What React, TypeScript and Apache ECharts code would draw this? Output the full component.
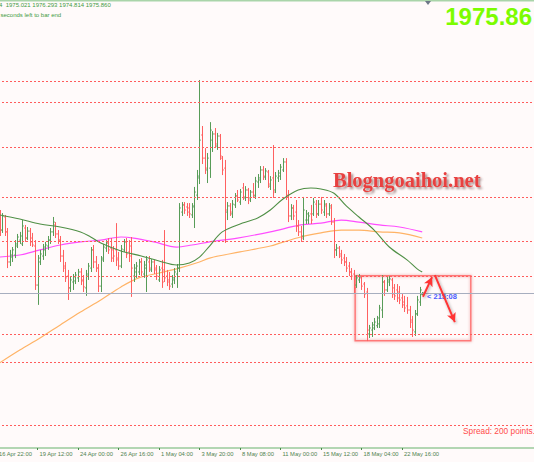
import { useEffect, useRef } from "react";
import * as echarts from "echarts";

// ---- time axis ----
const tickLabels = [
  "16 Apr 22:00", "19 Apr 12:00", "24 Apr 00:00", "26 Apr 16:00", "1 May 04:00",
  "3 May 20:00", "8 May 08:00", "11 May 00:00", "15 May 12:00", "18 May 04:00", "22 May 16:00",
];
const tickBars = [0, 16, 32, 48, 64, 80, 96, 112, 128, 144, 160];

// ---- XAUUSD H4 bars (bar index = array index) ----
const opens = [
  2009.1, 2012.5, 2006.6, 2013.0, 2005.7, 1991.0, 1993.4, 1994.4, 1998.8, 2001.7,
  1999.8, 2007.6, 2002.7, 2006.1, 2002.7, 1998.8, 1979.7, 1991.0, 1993.9, 1996.9,
  1998.8, 2001.7, 2005.7, 2009.1, 2004.7, 2001.7, 1993.9, 1989.0, 1984.1, 1978.3,
  1981.2, 1981.7, 1983.2, 1986.1, 1982.2, 1978.3, 1984.1, 1988.0, 1996.9, 1991.0,
  1988.0, 1979.2, 1992.9, 1997.8, 2000.3, 1997.8, 1996.9, 1996.9, 1992.9, 1989.0,
  1996.9, 2000.8, 1995.9, 1998.8, 1984.1, 1986.1, 1986.1, 1991.0, 1985.1, 1988.0,
  1991.0, 1987.1, 1991.0, 1988.0, 1982.2, 1988.0, 1987.1, 1984.1, 1982.2, 1980.2,
  1982.2, 1985.1, 1988.0, 2015.4, 2018.9, 2017.9, 2017.4, 2014.0, 2017.9, 2023.7,
  2032.1, 2053.1, 2041.8, 2036.0, 2036.9, 2050.6, 2053.6, 2047.7, 2052.6, 2041.8,
  2036.9, 2015.4, 2018.4, 2014.5, 2018.9, 2023.3, 2020.3, 2027.2, 2022.3, 2026.2,
  2022.3, 2025.2, 2023.3, 2030.1, 2031.1, 2036.0, 2032.5, 2035.0, 2028.1, 2032.1,
  2026.2, 2032.1, 2033.0, 2036.0, 2039.9, 2023.3, 2013.5, 2017.4, 2015.4, 2008.6,
  2005.7, 2003.7, 2011.5, 2011.5, 2014.5, 2014.5, 2019.3, 2014.5, 2019.3, 2015.4,
  2018.4, 2014.5, 2017.4, 2010.5, 1996.9, 1997.8, 1994.9, 1992.9, 1991.0, 1989.0,
  1986.1, 1985.1, 1979.7, 1982.2, 1983.2, 1980.2, 1976.3, 1955.8, 1957.7, 1958.7,
  1959.8, 1960.7, 1967.5, 1981.2, 1977.3, 1981.2, 1982.2, 1978.3, 1977.3, 1976.3,
  1973.4, 1971.4, 1969.5, 1967.5, 1962.6, 1956.8, 1965.6, 1971.4, 1975.021,
];
const highs = [
  2015.4, 2016.4, 2014.9, 2014.0, 2007.6, 1996.9, 1998.3, 2001.7, 2004.7, 2005.7,
  2011.5, 2009.1, 2008.1, 2007.6, 2005.2, 2001.7, 1994.4, 1996.9, 1999.8, 2000.8,
  2003.7, 2007.6, 2013.0, 2010.5, 2006.6, 2003.7, 1996.9, 1991.0, 1987.1, 1984.1,
  1985.1, 1986.1, 1987.6, 1988.0, 1984.6, 1987.1, 1990.5, 1998.3, 1999.3, 1993.9,
  1990.0, 1993.9, 1999.8, 2001.7, 2002.7, 2002.7, 1998.8, 2010.0, 1995.9, 1999.3,
  2002.2, 2002.7, 2001.7, 2003.2, 1990.0, 1991.0, 1992.4, 1992.9, 1991.5, 1993.9,
  1993.9, 1992.4, 1992.0, 1989.5, 1989.0, 1992.0, 2006.6, 1987.1, 1986.1, 1984.6,
  1988.0, 1990.0, 2019.8, 2020.3, 2020.3, 2019.8, 2019.8, 2019.8, 2027.7, 2036.0,
  2080.0, 2057.5, 2046.7, 2044.3, 2059.4, 2055.0, 2056.5, 2054.1, 2053.6, 2042.8,
  2040.9, 2020.3, 2019.8, 2021.3, 2024.7, 2026.2, 2026.7, 2029.6, 2028.1, 2027.2,
  2026.2, 2029.6, 2032.6, 2034.0, 2037.9, 2037.9, 2036.9, 2036.0, 2033.0, 2048.2,
  2035.0, 2036.0, 2038.9, 2041.8, 2041.8, 2026.2, 2019.3, 2018.9, 2021.3, 2011.5,
  2008.6, 2022.8, 2016.4, 2015.4, 2018.9, 2022.3, 2021.3, 2021.3, 2022.8, 2021.3,
  2019.8, 2019.8, 2019.3, 2012.5, 1999.8, 1998.8, 1996.9, 1994.9, 1993.4, 1991.0,
  1988.0, 1987.1, 1984.6, 1985.1, 1984.1, 1981.2, 1978.3, 1960.2, 1961.6, 1963.6,
  1964.6, 1970.0, 1984.6, 1982.2, 1984.1, 1984.1, 1983.2, 1980.2, 1980.2, 1979.2,
  1975.3, 1974.4, 1973.9, 1969.5, 1964.6, 1967.5, 1974.4, 1978.8, 1976.293,
];
const lows = [
  2005.7, 2003.7, 2005.2, 2003.7, 1988.0, 1989.0, 1991.0, 1992.9, 1997.8, 1999.8,
  1998.8, 2000.8, 2001.7, 1998.8, 1998.3, 1977.3, 1970.0, 1989.5, 1992.0, 1993.9,
  1996.9, 1999.8, 2003.7, 2002.7, 1999.8, 1991.0, 1986.1, 1981.2, 1972.4, 1976.3,
  1977.3, 1980.2, 1981.2, 1979.7, 1976.3, 1974.4, 1982.2, 1986.1, 1988.0, 1986.1,
  1976.3, 1976.3, 1991.0, 1995.9, 1994.9, 1991.0, 1991.0, 1989.0, 1987.1, 1988.0,
  1995.9, 1992.9, 1991.0, 1973.9, 1981.2, 1983.2, 1984.6, 1984.1, 1983.2, 1976.3,
  1986.1, 1986.1, 1985.1, 1982.2, 1981.2, 1978.3, 1981.2, 1979.2, 1977.3, 1978.3,
  1980.2, 1978.3, 1986.1, 2013.5, 2014.5, 2013.5, 2012.5, 2012.5, 2007.6, 2021.3,
  2029.1, 2038.9, 2034.0, 2029.6, 2032.1, 2044.8, 2046.7, 2045.8, 2040.9, 2033.5,
  2000.3, 2011.5, 2013.5, 2012.5, 2017.4, 2020.3, 2018.9, 2021.3, 2020.8, 2019.3,
  2020.3, 2022.3, 2021.8, 2027.2, 2029.6, 2031.1, 2031.1, 2027.2, 2026.2, 2022.3,
  2024.7, 2030.1, 2031.1, 2035.0, 2021.3, 2010.5, 2011.5, 2011.5, 2005.7, 2003.7,
  2000.8, 2001.7, 2009.6, 2009.6, 2009.6, 2013.5, 2012.5, 2013.5, 2014.5, 2013.5,
  2012.5, 2013.5, 2009.1, 1992.9, 1993.9, 1992.9, 1990.0, 1989.0, 1986.1, 1984.1,
  1982.2, 1975.8, 1978.3, 1980.7, 1977.3, 1973.4, 1952.3, 1953.8, 1954.3, 1957.7,
  1958.7, 1958.7, 1963.6, 1974.4, 1976.3, 1979.2, 1973.4, 1972.4, 1971.4, 1970.4,
  1968.5, 1966.5, 1965.6, 1958.7, 1954.3, 1954.8, 1964.6, 1969.5, 1974.814,
];
const closes = [
  2012.5, 2006.6, 2013.5, 2005.7, 1991.0, 1994.4, 1996.9, 1999.8, 2003.2, 2003.7,
  2008.6, 2002.7, 2006.1, 2000.8, 1999.3, 1979.7, 1992.9, 1994.9, 1998.3, 1999.3,
  2001.7, 2005.7, 2010.5, 2004.7, 2001.7, 1993.9, 1988.0, 1983.2, 1978.3, 1982.2,
  1983.7, 1984.6, 1986.1, 1981.7, 1978.8, 1985.1, 1989.0, 1996.9, 1991.0, 1988.0,
  1979.2, 1992.0, 1998.3, 2000.3, 1996.9, 1992.9, 1993.9, 1992.0, 1989.0, 1997.3,
  2000.8, 1994.9, 1993.9, 1988.0, 1988.0, 1989.0, 1991.0, 1986.1, 1989.5, 1992.0,
  1988.0, 1991.0, 1987.1, 1984.1, 1987.1, 1981.2, 1983.2, 1981.2, 1979.2, 1983.2,
  1986.1, 1988.0, 2017.4, 2018.9, 2016.4, 2015.4, 2014.5, 2018.4, 2025.2, 2033.0,
  2050.6, 2041.8, 2036.9, 2041.8, 2055.5, 2053.6, 2048.7, 2052.6, 2042.8, 2036.0,
  2016.4, 2018.4, 2015.4, 2019.3, 2023.3, 2021.3, 2025.2, 2022.8, 2026.2, 2021.3,
  2025.2, 2023.7, 2030.6, 2032.1, 2036.0, 2033.0, 2035.5, 2029.1, 2031.1, 2025.2,
  2033.0, 2034.5, 2037.4, 2039.9, 2023.7, 2013.5, 2017.4, 2013.5, 2008.6, 2005.7,
  2002.7, 2016.4, 2014.5, 2013.5, 2011.5, 2020.3, 2014.5, 2019.3, 2016.4, 2019.3,
  2014.5, 2018.4, 2010.5, 1996.9, 1997.8, 1993.9, 1992.0, 1991.0, 1988.0, 1986.1,
  1984.1, 1978.3, 1983.2, 1983.7, 1979.2, 1975.3, 1957.7, 1958.7, 1960.2, 1961.6,
  1963.6, 1968.5, 1981.2, 1977.3, 1982.2, 1982.7, 1975.3, 1974.4, 1973.4, 1972.4,
  1970.0, 1968.5, 1967.5, 1961.6, 1957.7, 1965.6, 1972.4, 1977.3, 1975.86,
];

// ---- moving averages: [bar index, price] ----
const maGreen = [
  [1, 2014.0], [9, 2012.0], [17, 2009.6], [25, 2008.1], [33, 2005.7], [37, 2003.2], [41, 2000.3],
  [49, 1996.4], [57, 1993.9], [64, 1991.5], [71, 1989.5], [76, 1990.5], [80, 1993.4],
  [84, 1998.8], [89, 2005.7], [97, 2010.0], [103, 2012.5], [108, 2016.4], [113, 2021.8],
  [119, 2026.2], [124, 2027.2], [128, 2026.7], [133, 2024.7], [138, 2018.4], [143, 2013.0],
  [149, 2006.6], [155, 1998.3], [162, 1992.0], [166, 1987.6], [168, 1986.1],
];
const maMagenta = [
  [1, 1993.4], [9, 1994.4], [17, 1996.9], [25, 1999.3], [33, 2000.8], [41, 2001.7],
  [49, 2003.2], [54, 2002.7], [62, 2000.8], [71, 1998.3], [77, 1999.3], [84, 2000.8],
  [95, 2002.7], [108, 2005.7], [120, 2009.1], [128, 2010.0], [136, 2011.5], [143, 2010.5],
  [151, 2009.1], [159, 2008.1], [168, 2005.7],
];
const maOrange = [
  [1, 1941.6], [9, 1947.9], [17, 1953.8], [25, 1960.2], [33, 1966.5], [41, 1972.4],
  [49, 1978.8], [56, 1983.2], [64, 1985.6], [72, 1988.0], [80, 1991.0], [84, 1992.9],
  [96, 1995.9], [108, 1998.8], [112, 2000.3], [120, 2003.2], [128, 2005.2], [136, 2006.6],
  [143, 2006.6], [151, 2005.7], [159, 2005.2], [168, 2002.7],
];

// ---- drawn objects ----
const levels = [2079.5, 2069.2, 2047.2, 2022.8, 2001.2, 1984.1, 1955.8, 1942.1, 1911.3];
const bidPrice = 1975.86;
const boxCorners = [[141.5, 1984.3], [187.2, 1952.5]];
const arrowUp = [[168.3, 1974.0], [171.9, 1983.6]];
const arrowDown = [[173.0, 1984.6], [180.9, 1961.6]];
const headerText = "4  1975.021 1976.293 1974.814 1975.860";
const timerText = "seconds left to bar end";
const bigPrice = "1975.86";
const watermark = "Blogngoaihoi.net";
const spreadText = "Spread: 200 points.";
const countdown = "< 215:08";

const BAR_PX = 2.531;
const GRID_LEFT = -30;
const GRID_RIGHT = -10;
const W = 534;
const xMin = 16 - (37.5 - GRID_LEFT) / BAR_PX;
const xMax = xMin + (W - GRID_LEFT - GRID_RIGHT) / BAR_PX;

const UP = "#589c58";
const DOWN = "#ff6060";
const FONT = '"Liberation Sans", Arial, sans-serif';

export default function App() {
  const ref = useRef<HTMLDivElement>(null);
  useEffect(() => {
    if (!ref.current) return;
    const chart = echarts.init(ref.current, null, { renderer: "svg" });
    const ohlc = opens.map((o, i) => [i, o, highs[i], lows[i], closes[i]]);
    const option: any = {
      animation: false,
      backgroundColor: "#fffafa",
      grid: { left: GRID_LEFT, right: GRID_RIGHT, top: 0, bottom: 14, outerBoundsMode: "none" },
      xAxis: {
        type: "value",
        min: xMin,
        max: xMax,
        splitLine: { show: false },
        axisLine: { show: true, lineStyle: { color: "#b3d6b3", width: 2 } },
        axisTick: { show: true, customValues: tickBars, length: 2, lineStyle: { color: "#4a8a4a" } },
        axisLabel: {
          show: true,
          customValues: tickBars,
          formatter: (v: number) => tickLabels[tickBars.indexOf(Math.round(v))] ?? "",
          align: "left",
          margin: 3,
          padding: [0, 0, 0, 2],
          fontSize: 5.8,
          color: "#4f834f",
          fontFamily: FONT,
        },
      },
      yAxis: { type: "value", min: 1900, max: 2119.13, show: false, splitLine: { show: false } },
      series: [
        {
          type: "line",
          data: maOrange,
          smooth: 0.35,
          showSymbol: false,
          silent: true,
          lineStyle: { color: "#ffb366", width: 1.2 },
          z: 2,
          markLine: {
            silent: true,
            symbol: ["none", "none"],
            label: { show: false },
            lineStyle: { color: "#ff5c5c", type: [2, 2], width: 1 },
            data: [
              ...levels.map((v) => ({ yAxis: v })),
              { yAxis: bidPrice, lineStyle: { color: "#a7aebf", type: "solid", width: 1 } },
            ],
          },
        },
        {
          type: "line",
          data: maMagenta,
          smooth: 0.35,
          showSymbol: false,
          silent: true,
          lineStyle: { color: "#ff4dff", width: 1.2 },
          z: 2,
        },
        {
          type: "custom",
          data: ohlc,
          encode: { x: 0, y: [1, 2, 3, 4] },
          z: 3,
          silent: true,
          renderItem: (_p: any, api: any) => {
            const i = api.value(0);
            const o = api.value(1);
            const c = api.value(4);
            const ph = api.coord([i, api.value(2)]);
            const pl = api.coord([i, api.value(3)]);
            const po = api.coord([i, o]);
            const pc = api.coord([i, c]);
            const x = Math.round(ph[0]) + 0.5;
            const color = c >= o ? UP : DOWN;
            const st = { stroke: color, lineWidth: 1 };
            return {
              type: "group",
              children: [
                { type: "line", shape: { x1: x, y1: ph[1], x2: x, y2: pl[1] }, style: st },
                { type: "line", shape: { x1: x - 1.3, y1: po[1], x2: x, y2: po[1] }, style: st },
                { type: "line", shape: { x1: x, y1: pc[1], x2: x + 1.3, y2: pc[1] }, style: st },
              ],
            };
          },
        },
        {
          type: "line",
          data: maGreen,
          smooth: 0.35,
          showSymbol: false,
          silent: true,
          lineStyle: { color: "#4f8f45", width: 1.1 },
          z: 4,
          markArea: {
            silent: true,
            itemStyle: {
              color: "rgba(0,0,0,0)",
              borderColor: "#ff7878",
              borderWidth: 1.5,
              shadowBlur: 3,
              shadowColor: "rgba(200,0,0,0.35)",
            },
            data: [[{ coord: boxCorners[0] }, { coord: boxCorners[1] }]],
          },
          markLine: {
            silent: true,
            symbol: ["none", "arrow"],
            symbolSize: [7, 9],
            label: { show: false },
            lineStyle: {
              color: "#ff3535",
              width: 2,
              type: "solid",
              shadowBlur: 3,
              shadowColor: "rgba(0,0,0,0.35)",
              shadowOffsetX: 1,
              shadowOffsetY: 1,
            },
            data: [
              [{ coord: arrowUp[0] }, { coord: arrowUp[1] }],
              [{ coord: arrowDown[0] }, { coord: arrowDown[1] }],
            ],
          },
        },
      ],
      graphic: [
        { type: "line", shape: { x1: 0, y1: 0.5, x2: W, y2: 0.5 }, style: { stroke: "#a9d4a9", lineWidth: 2 }, silent: true },
        { type: "polygon", shape: { points: [[425, 1], [431, 1], [428, 5]] }, style: { fill: "#6d7787" }, silent: true },
        {
          type: "text", x: -1, y: 5, silent: true,
          style: { text: headerText, fill: "#3f9a3f", fontSize: 6, fontFamily: FONT, verticalAlign: "middle" },
        },
        {
          type: "text", x: 0.5, y: 15, silent: true,
          style: { text: timerText, fill: "#3f9a3f", fontSize: 6, fontFamily: FONT, verticalAlign: "middle" },
        },
        {
          type: "text", x: 532, y: 16, silent: true,
          style: { text: bigPrice, fill: "#7cfc00", fontSize: 24, fontWeight: "bold", fontFamily: FONT, align: "right", verticalAlign: "middle" },
        },
        {
          type: "text", x: 333, y: 180, silent: true,
          style: {
            text: watermark, fill: "#e8413f", fontSize: 20.5, fontWeight: "bold",
            fontFamily: '"Liberation Serif", "Times New Roman", serif', verticalAlign: "middle",
            textShadowColor: "rgba(60,0,0,0.45)", textShadowBlur: 2, textShadowOffsetX: 2, textShadowOffsetY: 2,
          },
        },
        {
          type: "text", x: 463, y: 431, silent: true,
          style: { text: spreadText, fill: "#ff4c4c", fontSize: 8.3, fontFamily: FONT, verticalAlign: "middle" },
        },
        {
          type: "text", x: 427, y: 296, silent: true,
          style: { text: countdown, fill: "#4b5cff", fontSize: 7.5, fontWeight: "bold", fontFamily: FONT, verticalAlign: "middle" },
        },
      ],
    };
    chart.setOption(option);
    return () => chart.dispose();
  }, []);
  return <div ref={ref} style={{ position: "absolute", left: 0, top: 0, width: W, height: 462 }} />;
}
